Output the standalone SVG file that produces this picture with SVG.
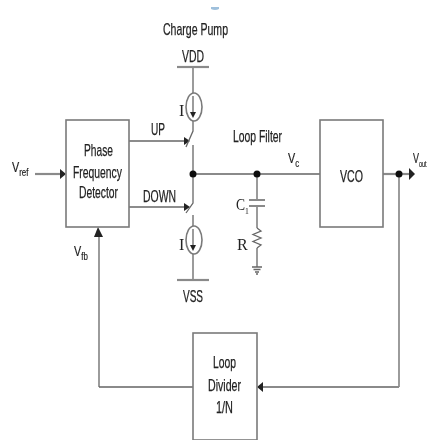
<svg xmlns="http://www.w3.org/2000/svg" width="429" height="442" viewBox="0 0 429 442">
<defs><filter id="soft" x="0" y="0" width="1" height="1"><feGaussianBlur stdDeviation="0.4"/></filter></defs>
<style>
.s{fill:none;stroke:#666;stroke-width:1.3}
.h{fill:none;stroke:#8a8a8a;stroke-width:2.2}
.b{fill:#fff;stroke:#7a7a7a;stroke-width:1.6}
.t{font-family:"Liberation Sans",Arial,sans-serif;font-size:17px;fill:#222;stroke:#222;stroke-width:.25}
.v{font-family:"Liberation Sans",Arial,sans-serif;font-size:15px;fill:#222;stroke:#222;stroke-width:.2}
.st{font-size:11px}
.so{font-size:9px}
.m{font-family:"Liberation Serif",serif;font-size:16px;fill:#222}
.d{fill:#111}
.a{fill:#222}
</style>
<rect width="429" height="442" fill="#fff"/>
<g filter="url(#soft)">
<g id="connectors">
<path class="h" d="M35 174H62"/><path class="a" d="M60 169L66 174L60 179Z"/>
<path class="s" d="M129 141H186"/><path class="a" d="M184 137L190 141L184 145Z"/>
<path class="s" d="M129 207H186"/><path class="a" d="M184 203L190 207L184 211Z"/>
<path class="s" d="M193 67V94M193 121V131L186 147"/>
<path class="s" d="M193 145V203L186 213"/>
<path class="s" d="M193 215V226M193 254V280"/>
<path class="h" d="M193 174H320"/>
<path class="s" d="M257 174V200M257 206V228M257 248V267"/>
<path class="h" d="M383 174H410"/><path class="a" d="M409 168L415 174L409 180Z"/>
<path class="s" d="M399 174V387"/>
<path class="h" d="M399 387H260"/><path class="a" d="M257 387L263 382V392Z"/>
<path class="h" d="M193 387H99"/><path class="s" d="M99 387V235"/><path class="a" d="M98 227L94 237H103Z"/>
<circle class="d" cx="193" cy="174" r="3.5"/><circle class="d" cx="257" cy="174" r="3.5"/><circle class="d" cx="399" cy="174" r="3.5"/>
</g>
<g id="pfd"><rect class="b" x="66" y="120" width="63" height="107"/>
<text class="t" x="84" y="156" textLength="29" lengthAdjust="spacingAndGlyphs">Phase</text><text class="t" x="73" y="178" textLength="49" lengthAdjust="spacingAndGlyphs">Frequency</text><text class="t" x="79" y="198" textLength="39" lengthAdjust="spacingAndGlyphs">Detector</text></g>
<g id="vco"><rect class="b" x="320" y="120" width="63" height="107"/><text class="t" x="340" y="182" textLength="23" lengthAdjust="spacingAndGlyphs">VCO</text></g>
<g id="divider"><rect class="b" x="193" y="333" width="64" height="107"/>
<text class="t" x="213" y="368" textLength="23" lengthAdjust="spacingAndGlyphs">Loop</text><text class="t" x="208" y="391" textLength="33" lengthAdjust="spacingAndGlyphs">Divider</text><text class="t" x="216" y="413" textLength="17" lengthAdjust="spacingAndGlyphs">1/N</text></g>
<g id="vdd"><path class="h" d="M177 67H209"/><text class="t" x="182" y="62" textLength="22" lengthAdjust="spacingAndGlyphs">VDD</text></g>
<g id="vss"><path class="h" d="M177 280H209"/><text class="t" x="183" y="302" textLength="20" lengthAdjust="spacingAndGlyphs">VSS</text></g>
<g id="isrc-up"><ellipse class="b" cx="194" cy="107" rx="8" ry="14"/><path class="s" d="M193 96V114"/><path class="a" d="M190 112H196L193 118Z"/><text class="m" x="179" y="116">I</text></g>
<g id="isrc-down"><ellipse class="b" cx="194" cy="240" rx="8" ry="14"/><path class="s" d="M193 229V247"/><path class="a" d="M190 245H196L193 251Z"/><text class="m" x="179" y="250">I</text></g>
<g id="cap"><path class="h" d="M249 200H265M249 206H265"/><text class="m" transform="translate(236 210) scale(.85 1)">C<tspan font-size="9" dy="4">1</tspan></text></g>
<g id="res"><path class="s" d="M257 228L261 231L253 234.500L261 238L253 241.500L261 245L257 248"/><text class="m" x="237" y="250">R</text></g>
<g id="gnd"><path class="s" d="M252 267H262M253.500 269.500H260.500M255 272H259M256 274H258"/></g>
<g id="labels">
<path d="M211 7H219V9Q215 11 211 9Z" fill="#9fc0dc"/>
<text class="t" x="163" y="35" textLength="65" lengthAdjust="spacingAndGlyphs">Charge Pump</text>
<text class="t" x="151" y="135" textLength="14" lengthAdjust="spacingAndGlyphs">UP</text>
<text class="t" x="143" y="202" textLength="33" lengthAdjust="spacingAndGlyphs">DOWN</text>
<text class="t" x="233" y="142" textLength="49" lengthAdjust="spacingAndGlyphs">Loop Filter</text>
<text class="v" transform="translate(12 172) scale(.72 1)">V<tspan class="st" dy="4">ref</tspan></text>
<text class="v" transform="translate(74 256) scale(.72 1)">V<tspan class="st" dy="4">fb</tspan></text>
<text class="v" transform="translate(288 163) scale(.72 1)">V<tspan class="st" dy="4">c</tspan></text>
<text class="v" transform="translate(413 163) scale(.6 1)">V<tspan class="so" dy="4">out</tspan></text>
</g>
</g>
</svg>
